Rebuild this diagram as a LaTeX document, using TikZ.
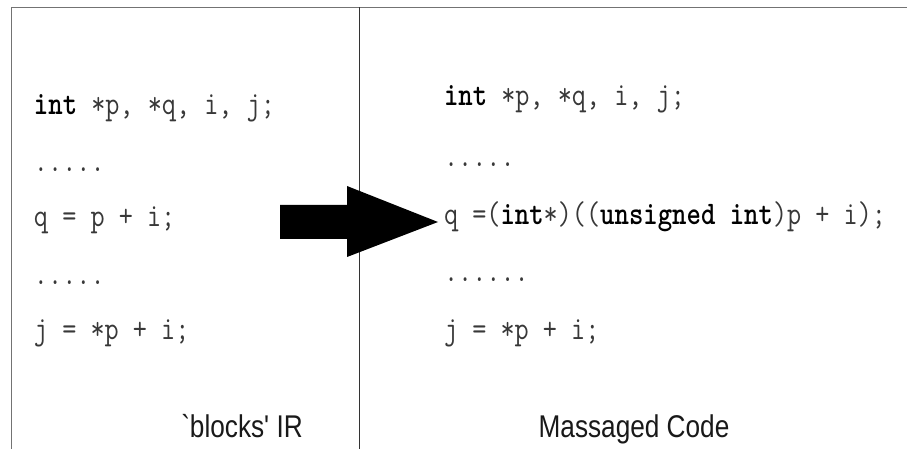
\documentclass[tikz,border=0pt]{standalone}
\usepackage{fontspec}
\setmainfont{Liberation Sans}
\newcommand{\tallbox}[1]{\scalebox{1}[1.2]{#1}}
\newcommand{\kw}[1]{\textcolor{black}{\textbf{#1}}}
\begin{document}
\begin{tikzpicture}[x=1pt,y=-1pt,
  code/.style={anchor=base west,inner sep=0pt,outer sep=0pt,text=black!78,
    font=\ttfamily\fontsize{27.43}{30}\selectfont},
  caption/.style={anchor=base,inner sep=0pt,outer sep=0pt,text=black!90,
    font=\rmfamily\fontsize{26.2}{30}\selectfont},
  frameline/.style={draw=black!55,line width=1.4pt},
  midline/.style={draw=black!80,line width=1pt}]
\useasboundingbox (0,0) rectangle (908,449);
% frame
\coordinate (tl) at (11.5,7.5);
\coordinate (tr) at (907,7.5);
\coordinate (bl) at (11.5,449);
\coordinate (mt) at (359,7.5);
\coordinate (mb) at (359,449);
\draw[frameline] (bl) -- (tl) -- (tr);
\draw[midline] (mt) -- (mb);
% left code
\node[code] (l1) at (34,115) {\tallbox{\kw{int} *p, *q, i, j;}};
\node[code] (l2) at (34,172) {\tallbox{.....}};
\node[code] (l3) at (34,227) {\tallbox{q = p + i;}};
\node[code] (l4) at (34,284) {\tallbox{.....}};
\node[code] (l5) at (34,339) {\tallbox{j = *p + i;}};
% right code
\node[code] (r1) at (444,106) {\tallbox{\kw{int} *p, *q, i, j;}};
\node[code] (r2) at (444,167) {\tallbox{.....}};
\node[code] (r3) at (444,225) {\tallbox{q =(\kw{int}*)((\kw{unsigned int})p + i);}};
\node[code] (r4) at (444,281) {\tallbox{......}};
\node[code] (r5) at (444,339) {\tallbox{j = *p + i;}};
% captions
\node[caption] (capl) at (242,437.5) {\tallbox{\textasciigrave blocks\textquotesingle{} IR}};
\node[caption] (capr) at (634,437.5) {\tallbox{Massaged Code}};
% block arrow
\fill[black] (280,205) -- (347,205) -- (347,186) -- (438,222) -- (347,257) -- (347,239) -- (280,239) -- cycle;
\end{tikzpicture}
\end{document}
